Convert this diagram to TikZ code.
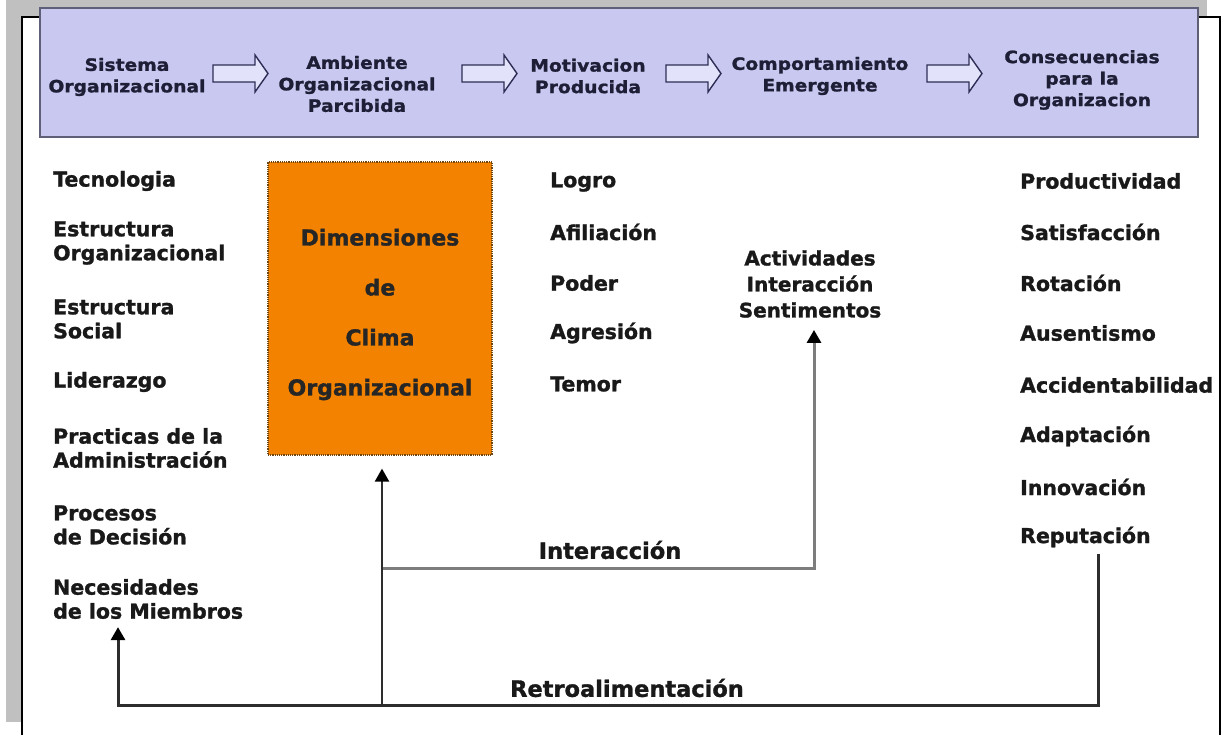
\documentclass[tikz,border=0pt]{standalone}
\usepackage{fontspec}
\setmainfont{DejaVu Sans}[BoldFeatures={FakeBold=1.3}]
\newfontfamily\bannerfont{DejaVu Sans}[FakeStretch=1.1, BoldFeatures={FakeBold=1.3}]
\usetikzlibrary{arrows.meta}

\definecolor{shadowgray}{RGB}{192,192,192}
\definecolor{bannerfill}{RGB}{200,200,240}
\definecolor{bannerline}{RGB}{95,95,120}
\definecolor{bannerink}{RGB}{30,30,55}
\definecolor{arrowfill}{RGB}{226,226,250}
\definecolor{arrowline}{RGB}{45,45,85}
\definecolor{climaorange}{RGB}{242,130,0}
\definecolor{climaedge}{RGB}{110,70,20}
\definecolor{inkdark}{RGB}{25,25,25}
\definecolor{linkgray}{RGB}{125,125,125}
\definecolor{linkdark}{RGB}{45,45,45}

\begin{document}
\begin{tikzpicture}[x=1pt,y=-1pt,
  item/.style={font=\fontsize{20.5}{24}\selectfont\bfseries, text=inkdark,
               inner sep=0pt, align=left, anchor=west},
  stage/.style={font=\bannerfont\fontsize{17}{21.5}\selectfont\bfseries,
                text=bannerink, inner sep=0pt, align=center},
  flowlabel/.style={font=\fontsize{22.5}{26}\selectfont\bfseries, text=inkdark, inner sep=0pt},
  climabox/.style={draw=climaedge, densely dotted, line width=1.2pt, fill=climaorange,
                   minimum width=224pt, minimum height=293pt, inner sep=0pt,
                   font=\fontsize{22}{50}\selectfont\bfseries, text=black!85},
  stagearrow/.style={draw=arrowline, fill=arrowfill, line width=1.4pt, line join=miter},
  feedback/.style={draw=linkdark, line width=3pt},
  interline/.style={draw=linkgray, line width=3pt},
  tip/.style={-{Triangle[length=13pt,width=14pt,color=black]}}
]
\useasboundingbox (0,0) rectangle (1224,735);
\clip (0,0) rectangle (1224,735);

% page frame with grey offset shadow
\fill[shadowgray] (6,0) rectangle (1207,722);
\filldraw[fill=white, draw=black, line width=2.5pt] (22,17) rectangle (1220,760);

% banner with the sequence of stages
\filldraw[fill=bannerfill, draw=bannerline, line width=2pt] (40,8) rectangle (1198,137);
\node[stage] (s1) at (127,77) {Sistema\\Organizacional};
\node[stage] (s2) at (357,84) {Ambiente\\Organizacional\\Parcibida};
\node[stage] (s3) at (588,76) {Motivacion\\Producida};
\node[stage] (s4) at (820,76) {Comportamiento\\Emergente};
\node[stage] (s5) at (1082,80) {Consecuencias\\para la\\Organizacion};
\foreach \x in {213,462,666,927}{
  \draw[stagearrow] (\x,65) -- ++(42,0) -- ++(0,-10) -- ++(13,18.5)
        -- ++(-13,18.5) -- ++(0,-10) -- ++(-42,0) -- cycle;
}

% left column: organisational system
\node[item] (tec)    at (53,181) {Tecnologia};
\node[item] (estorg) at (53,243) {Estructura\\Organizacional};
\node[item] (estsoc) at (53,319) {Estructura\\Social};
\node[item] (lid)    at (53,382) {Liderazgo};
\node[item] (prac)   at (53,448) {Practicas de la\\Administración};
\node[item] (proc)   at (53,525) {Procesos\\de Decisión};
\node[item] (nec)    at (53,599) {Necesidades\\de los Miembros};

% climate dimensions (text set slightly below the box centre)
\node[climabox] (clima) at (380,308.5)
  {\parbox{220pt}{\centering\vspace*{12pt}Dimensiones\\de\\Clima\\Organizacional}};

% motivation column
\node[item] (logro) at (550,182) {Logro};
\node[item] (afil)  at (550,232) {Afiliación};
\node[item] (poder) at (550,283) {Poder};
\node[item] (agre)  at (550,333) {Agresión};
\node[item] (temor) at (550,384) {Temor};

% emergent behaviour
\node[item, anchor=center, align=center, font=\fontsize{20}{26}\selectfont\bfseries]
  (act) at (810,284) {Actividades\\Interacción\\Sentimentos};

% consequences column
\node[item] (prod)  at (1020,181) {Productividad};
\node[item] (sat)   at (1020,232) {Satisfacción};
\node[item] (rot)   at (1020,283) {Rotación};
\node[item] (aus)   at (1020,333) {Ausentismo};
\node[item] (acc)   at (1020,385) {Accidentabilidad};
\node[item] (adap)  at (1020,436) {Adaptación};
\node[item] (innov) at (1020,487) {Innovación};
\node[item] (rep)   at (1020,537) {Reputación};

% flow labels
\node[flowlabel] (lint)  at (610,550) {Interacción};
\node[flowlabel] (lretro) at (627,688) {Retroalimentación};

% connector corners
\coordinate (fbL)  at (118,705);
\coordinate (fbM)  at (382,705);
\coordinate (fbR)  at (1098,705);
\coordinate (intL) at (382,568);
\coordinate (intR) at (814,568);

% interaction loop towards the emergent behaviour
\draw[interline, tip] (intL) -- (intR) -- ([yshift=-12pt]act.south -| intR);

% feedback from the consequences
\draw[feedback, tip] ([yshift=-6pt]rep.south -| fbR) -- (fbR) -- (fbL)
      -- ([yshift=-8pt]nec.south -| fbL);
\draw[draw=linkdark, line width=2.2pt, tip] (fbM) -- ([yshift=-13pt]clima.south -| fbM);
\end{tikzpicture}
\end{document}
